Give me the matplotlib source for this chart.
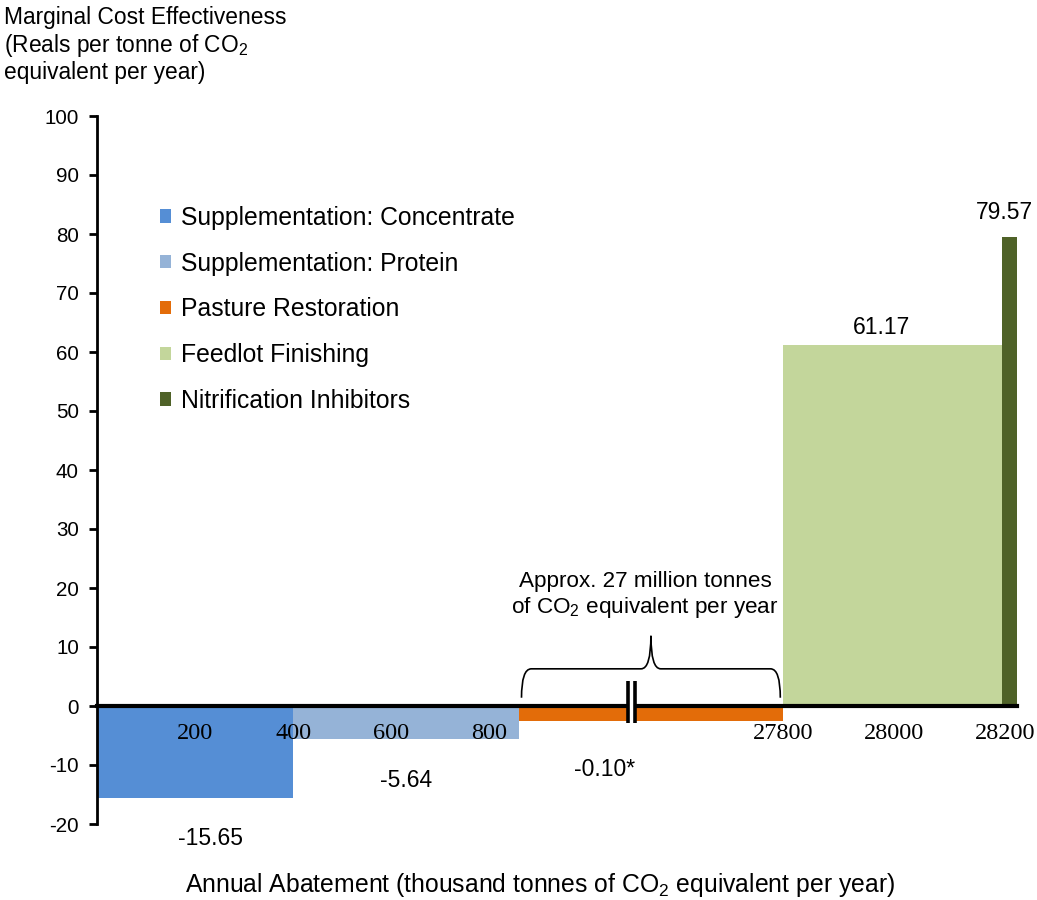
import numpy as np
import matplotlib.pyplot as plt
from matplotlib.patches import Patch, Rectangle
from matplotlib.path import Path
from matplotlib.patches import PathPatch

plt.rcParams['font.family'] = ['Liberation Sans', 'DejaVu Sans']
plt.rcParams['mathtext.fontset'] = 'custom'
plt.rcParams['mathtext.rm'] = 'Liberation Sans'
plt.rcParams['mathtext.default'] = 'regular'
plt.rcParams['axes.unicode_minus'] = False

# data
measures = ['Supplementation: Concentrate', 'Supplementation: Protein',
            'Pasture Restoration', 'Feedlot Finishing', 'Nitrification Inhibitors']
starts = [0, 400, 860, 27800, 28195]
ends = [400, 860, 27800, 28195, 28222]
costs = [-15.65, -5.64, -0.10, 61.17, 79.57]
cost_labels = ['-15.65', '-5.64', '-0.10*', '61.17', '79.57']
colors = ['#558ED5', '#95B3D7', '#E36C09', '#C3D69B', '#4F6228']
left_ticks = [200, 400, 600, 800]
right_ticks = [27800, 28000, 28200]

# broken x axis: compress the long pasture segment
MID_W = 540
RIGHT_K = 1.13
def fx(x):
    x = np.asarray(x, dtype=float)
    a, b = ends[1], starts[3]
    return np.where(x <= a, x,
           np.where(x < b, a + (x - a) / (b - a) * MID_W,
                    a + MID_W + (x - b) * RIGHT_K))

fig = plt.figure(figsize=(10.37, 9), dpi=100)
ax = fig.add_axes([97/1037, 76/900, 920/1037, 708/900])

for s, e, c, col in zip(starts, ends, costs, colors):
    h = c if abs(c) > 1 else -2.5   # make the tiny pasture bar visible
    ax.bar(float(fx(s)), h, width=float(fx(e) - fx(s)), align='edge',
           color=col, linewidth=0, zorder=1)

ax.set_xlim(0, float(fx(ends[-1])))
ax.set_ylim(-20, 100)
ax.set_yticks(np.arange(-20, 101, 10))
ax.tick_params(axis='y', direction='out', length=6, width=2, labelsize=14.8, pad=7)
for sp in ['top', 'right']:
    ax.spines[sp].set_visible(False)
ax.spines['left'].set_linewidth(2)
ax.spines['bottom'].set_position(('data', 0))
ax.spines['bottom'].set_linewidth(3)
ax.spines['bottom'].set_zorder(2.5)

xt = list(left_ticks) + list(right_ticks)
ax.set_xticks(fx(xt))
ax.set_xticklabels([str(t) for t in xt], family='Liberation Serif', fontsize=17.5)
ax.tick_params(axis='x', length=0, pad=12)

# value labels
lbl_pos = [(231, -22.4), (630, -12.7), (1036, -10.7), (1601, 64.1), (1852, 83.6)]
for (px, py), t in zip(lbl_pos, cost_labels):
    ax.text(px, py, t, ha='center', va='center', fontsize=16.5, clip_on=False)

# break marker on the pasture segment
bx = float(fx(860) + MID_W / 2 - 40)
ax.add_patch(Rectangle((bx - 5, -2.8), 10, 7.1, facecolor='white', edgecolor='none', zorder=4))
for dx in (-7, 7):
    ax.plot([bx + dx, bx + dx], [-2.8, 4.3], color='black', lw=2.6, zorder=5,
            solid_capstyle='butt')

# brace over the pasture segment
x0 = float(fx(860)) + 6
x1 = float(fx(27800)) - 6
xc = (x0 + x1) / 2
yb, ym, yp, r = 1.4, 6.3, 11.9, 20
verts = [(x0, yb), (x0, ym), (x0 + r, ym),
         (xc - r, ym), (xc, ym), (xc, yp),
         (xc, ym), (xc + r, ym),
         (x1 - r, ym), (x1, ym), (x1, yb)]
codes = [Path.MOVETO, Path.CURVE3, Path.CURVE3,
         Path.LINETO, Path.CURVE3, Path.CURVE3,
         Path.CURVE3, Path.CURVE3,
         Path.LINETO, Path.CURVE3, Path.CURVE3]
ax.add_patch(PathPatch(Path(verts, codes), facecolor='none', edgecolor='black', lw=1.2))
ax.text(xc - 12, 18.7, 'Approx. 27 million tonnes\nof CO$_2$ equivalent per year',
        ha='center', va='center', fontsize=16.2, linespacing=1.15)

# legend
handles = [Patch(facecolor=c, edgecolor='none') for c in colors]
fig.legend(handles, measures, loc='upper left', bbox_to_anchor=(150/1037, 1 - 196/900),
           frameon=False, fontsize=17.8, handlelength=0.45, handleheight=0.45,
           handletextpad=0.4, labelspacing=0.88, borderaxespad=0)

fig.text(4/1037, 1 - 6/900,
         'Marginal Cost Effectiveness\n(Reals per tonne of CO$_2$\nequivalent per year)',
         ha='left', va='top', fontsize=16.4, linespacing=1.14)
fig.text(540/1037, 1 - 885/900,
         'Annual Abatement (thousand tonnes of CO$_2$ equivalent per year)',
         ha='center', va='center', fontsize=17.8)

fig.savefig('out.png', dpi=100)
